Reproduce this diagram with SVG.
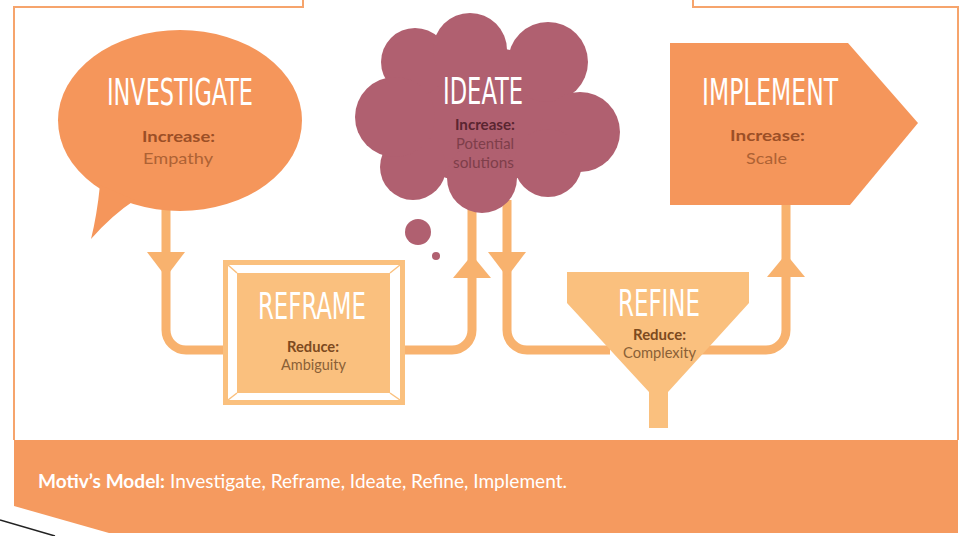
<svg xmlns="http://www.w3.org/2000/svg" width="961" height="536" viewBox="0 0 961 536">
<style>
.frame{fill:none;stroke:#F6A46C;stroke-width:2}
.conn{fill:none;stroke:#F8B26E;stroke-width:9}
.arrow{fill:#F8B26E}
.orange{fill:#F5965B}
.light{fill:#FAC07E}
.mauve{fill:#B06070}
.title{font-family:"Liberation Sans Narrow","DejaVu Sans Condensed","Liberation Sans",sans-serif;font-size:38px;fill:#FFFFFF}
.sub{font-family:Lato,"Open Sans","Liberation Sans",sans-serif;font-size:16px}
.lbl{font-weight:bold}
.oK{fill:#9C4F26}
.oV{fill:#AE6234}
.cK{fill:#5A2530}
.cV{fill:#7E3E4A}
.lK{fill:#7D4A1E}
.lV{fill:#8A6037}
.foot{font-family:Lato,"Open Sans","Liberation Sans",sans-serif;font-size:19px;fill:#FFFFFF}
</style>
<defs>
<polygon id="arrowDown" points="-19,0 19,0 0,25"/>
<polygon id="arrowUp" points="-19,0 19,0 0,-23"/>
</defs>

<g id="frame">
<polyline class="frame" points="303,0 303,7 14,7 14,440"/>
<polyline class="frame" points="693,0 693,7 958,7 958,440"/>
<path d="M14,440 H958 V533 H109 L14,506 Z" fill="#F59A5F"/>
<line x1="0" y1="520" x2="55" y2="536" stroke="#222" stroke-width="1.5"/>
<text class="foot" y="488"><tspan x="38" font-weight="bold" textLength="127" lengthAdjust="spacingAndGlyphs">Motiv’s Model:</tspan></text>
<text class="foot" x="170" y="488" textLength="397" lengthAdjust="spacingAndGlyphs">Investigate, Reframe, Ideate, Refine, Implement.</text>
</g>

<g id="connectors">
<path class="conn" d="M166,205 V330 A20,20 0 0 0 186,350 H226"/>
<path class="conn" d="M402,350 H452 A20,20 0 0 0 472,330 V200"/>
<path class="conn" d="M507,200 V330 A20,20 0 0 0 527,350 H610"/>
<path class="conn" d="M700,350 H766 A20,20 0 0 0 786,330 V200"/>
<use href="#arrowDown" class="arrow" x="166" y="252"/>
<use href="#arrowUp" class="arrow" x="472" y="278"/>
<use href="#arrowDown" class="arrow" x="507" y="252"/>
<use href="#arrowUp" class="arrow" x="786" y="277"/>
</g>

<g id="investigate">
<ellipse class="orange" cx="180" cy="120.5" rx="122" ry="90.5"/>
<path class="orange" d="M100,185 Q97,215 91,239 Q112,215 135,200 Z"/>
<text class="title" x="107" y="105" textLength="146" lengthAdjust="spacingAndGlyphs">INVESTIGATE</text>
<text class="sub lbl oK" x="142" y="142" textLength="73" lengthAdjust="spacingAndGlyphs">Increase:</text>
<text class="sub oV" x="143" y="164" textLength="70" lengthAdjust="spacingAndGlyphs">Empathy</text>
</g>

<g id="ideate">
<g class="mauve">
<ellipse cx="482" cy="115" rx="95" ry="68"/>
<circle cx="415" cy="62" r="34"/>
<circle cx="470" cy="50" r="37"/>
<circle cx="548" cy="62" r="40"/>
<circle cx="580" cy="132" r="40"/>
<circle cx="548" cy="163" r="34"/>
<circle cx="482" cy="178" r="35"/>
<circle cx="413" cy="167" r="33"/>
<circle cx="395" cy="117" r="40"/>
<circle cx="418" cy="232" r="13"/>
<circle cx="436" cy="256" r="4"/>
</g>
<text class="title" x="443" y="104" textLength="80" lengthAdjust="spacingAndGlyphs">IDEATE</text>
<text class="sub lbl cK" x="455" y="130" font-size="13" textLength="60" lengthAdjust="spacingAndGlyphs">Increase:</text>
<text class="sub cV" x="456" y="149" font-size="13" textLength="58" lengthAdjust="spacingAndGlyphs">Potential</text>
<text class="sub cV" x="453" y="168" font-size="13" textLength="61" lengthAdjust="spacingAndGlyphs">solutions</text>
</g>

<g id="implement">
<polygon class="orange" points="670,43 848,43 918,123 850,205 670,205"/>
<text class="title" x="702" y="105" textLength="136" lengthAdjust="spacingAndGlyphs">IMPLEMENT</text>
<text class="sub lbl oK" x="730" y="141" textLength="75" lengthAdjust="spacingAndGlyphs">Increase:</text>
<text class="sub oV" x="746" y="164" textLength="41" lengthAdjust="spacingAndGlyphs">Scale</text>
</g>

<g id="reframe">
<rect class="light" x="223" y="260" width="182" height="145"/>
<rect x="228" y="265" width="172" height="135" fill="#FFFFFF"/>
<rect class="light" x="237" y="273" width="153" height="120"/>
<g stroke="#FAC07E" stroke-width="1.5">
<line x1="228" y1="265" x2="237" y2="273"/>
<line x1="400" y1="265" x2="390" y2="273"/>
<line x1="228" y1="400" x2="237" y2="393"/>
<line x1="400" y1="400" x2="390" y2="393"/>
</g>
<text class="title" x="258" y="319" textLength="108" lengthAdjust="spacingAndGlyphs">REFRAME</text>
<text class="sub lbl lK" x="287" y="352" font-size="14" textLength="52" lengthAdjust="spacingAndGlyphs">Reduce:</text>
<text class="sub lV" x="281" y="370" font-size="14" textLength="65" lengthAdjust="spacingAndGlyphs">Ambiguity</text>
</g>

<g id="refine">
<path class="light" d="M567,272 H749 V303 L668,392 V428 H649 V392 L567,303 Z"/>
<text class="title" x="618" y="316" font-size="37" textLength="82" lengthAdjust="spacingAndGlyphs">REFINE</text>
<text class="sub lbl lK" x="633" y="340" font-size="14" textLength="53" lengthAdjust="spacingAndGlyphs">Reduce:</text>
<text class="sub lV" x="623" y="358" font-size="14" textLength="73" lengthAdjust="spacingAndGlyphs">Complexity</text>
</g>
</svg>
